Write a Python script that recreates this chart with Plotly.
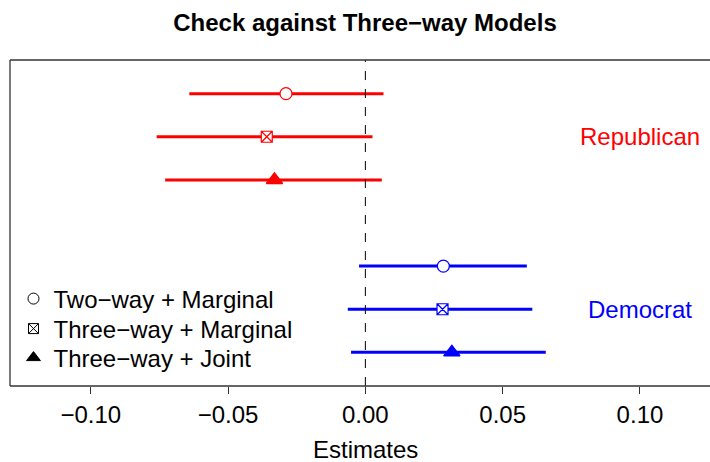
import plotly.graph_objects as go

models = ["Two\u2212way + Marginal", "Three\u2212way + Marginal", "Three\u2212way + Joint"]
symbols = ["circle", "square-x", "triangle-up"]

rep_est = [-0.0289, -0.0359, -0.0331]
rep_lo = [-0.0641, -0.0760, -0.0729]
rep_hi = [0.0066, 0.0026, 0.0060]
rep_pos = [7, 6, 5]

dem_est = [0.0284, 0.0281, 0.0315]
dem_lo = [-0.0023, -0.0064, -0.0052]
dem_hi = [0.0588, 0.0608, 0.0657]
dem_pos = [3, 2, 1]

xticks = [-0.10, -0.05, 0.00, 0.05, 0.10]
xticklabels = ["\u22120.10", "\u22120.05", "0.00", "0.05", "0.10"]
FONT = "Liberation Sans, Arial, sans-serif"
FS = 24

fig = go.Figure()

def add_group(est, lo, hi, pos, color):
    for i in range(len(est)):
        fig.add_trace(go.Scatter(
            x=[lo[i], hi[i]], y=[pos[i], pos[i]], mode="lines",
            line=dict(color=color, width=3), showlegend=False, hoverinfo="skip"))
    for i in range(len(est)):
        sym = symbols[i]
        if sym == "triangle-up":
            mk = dict(symbol=sym, size=14, color=color, line=dict(color=color, width=1.5))
        else:
            mk = dict(symbol=sym, size=12 if sym == "circle" else 11,
                      color="white", line=dict(color=color, width=1.2))
        fig.add_trace(go.Scatter(x=[est[i]], y=[pos[i]], mode="markers",
                                 marker=mk, showlegend=False))

add_group(rep_est, rep_lo, rep_hi, rep_pos, "#FF0000")
add_group(dem_est, dem_lo, dem_hi, dem_pos, "#0000FF")

# legend entries, one legend per item so spacing can match
legend_names = ["legend", "legend2", "legend3"]
legend_y_px = [299, 329, 358]
for i, name in enumerate(models):
    sym = symbols[i]
    if sym == "triangle-up":
        mk = dict(symbol=sym, size=12, color="black", line=dict(color="black", width=1))
    else:
        mk = dict(symbol=sym, size=11 if sym == "circle" else 10,
                  color="white", line=dict(color="black", width=1))
    fig.add_trace(go.Scatter(x=[None], y=[None], mode="markers", marker=mk, name=name,
                             legend=legend_names[i]))

x_min, x_max = -0.1294, 0.1255
PLOT_TOP, PLOT_BOTTOM = 60, 386
PH = PLOT_BOTTOM - PLOT_TOP

# dashed zero line
fig.add_shape(type="line", x0=0, x1=0, y0=0, y1=1, xref="x", yref="paper",
              line=dict(color="black", width=1, dash="dash"))
# box (left, top, bottom)
for (x0, y0, x1, y1) in [(0, 0, 0, 1), (0, 1, 1, 1), (0, 0, 1, 0)]:
    fig.add_shape(type="line", x0=x0, x1=x1, y0=y0, y1=y1, xref="paper", yref="paper",
                  line=dict(color="#333333", width=1.3))

fig.add_annotation(x=0.10, y=6, xref="x", yref="y", text="Republican", showarrow=False,
                   font=dict(color="#FF0000", size=FS, family=FONT))
fig.add_annotation(x=0.10, y=2, xref="x", yref="y", text="Democrat", showarrow=False,
                   font=dict(color="#0000FF", size=FS, family=FONT))
fig.add_annotation(x=(365 - 10) / 700, y=-(449 - PLOT_BOTTOM) / PH, xref="paper", yref="paper",
                   text="Estimates", showarrow=False, yanchor="middle", borderpad=0,
                   font=dict(color="black", size=FS, family=FONT))

legend_layout = {}
for i, ln in enumerate(legend_names):
    legend_layout[ln] = dict(x=0.005, y=(PLOT_BOTTOM - legend_y_px[i]) / PH,
                             xanchor="left", yanchor="middle", bgcolor="rgba(0,0,0,0)",
                             font=dict(size=FS), itemsizing="trace")

fig.update_layout(
    width=710, height=462,
    margin=dict(l=10, r=0, t=PLOT_TOP, b=462 - PLOT_BOTTOM),
    plot_bgcolor="white", paper_bgcolor="white",
    font=dict(family=FONT, color="black", size=FS),
    title=dict(text="<b>Check against Three\u2212way Models</b>", x=365 / 710, xanchor="center",
               y=1 - 23 / 462, yanchor="middle", font=dict(size=FS, family=FONT)),
    xaxis=dict(range=[x_min, x_max], tickvals=xticks, ticktext=xticklabels,
               ticks="outside", ticklen=7, tickcolor="#333333", showgrid=False,
               zeroline=False, showline=False, tickfont=dict(size=FS)),
    yaxis=dict(range=[0.22, 7.78], visible=False, showgrid=False, zeroline=False),
    showlegend=True,
    **legend_layout,
)

fig.write_html("out.html")
